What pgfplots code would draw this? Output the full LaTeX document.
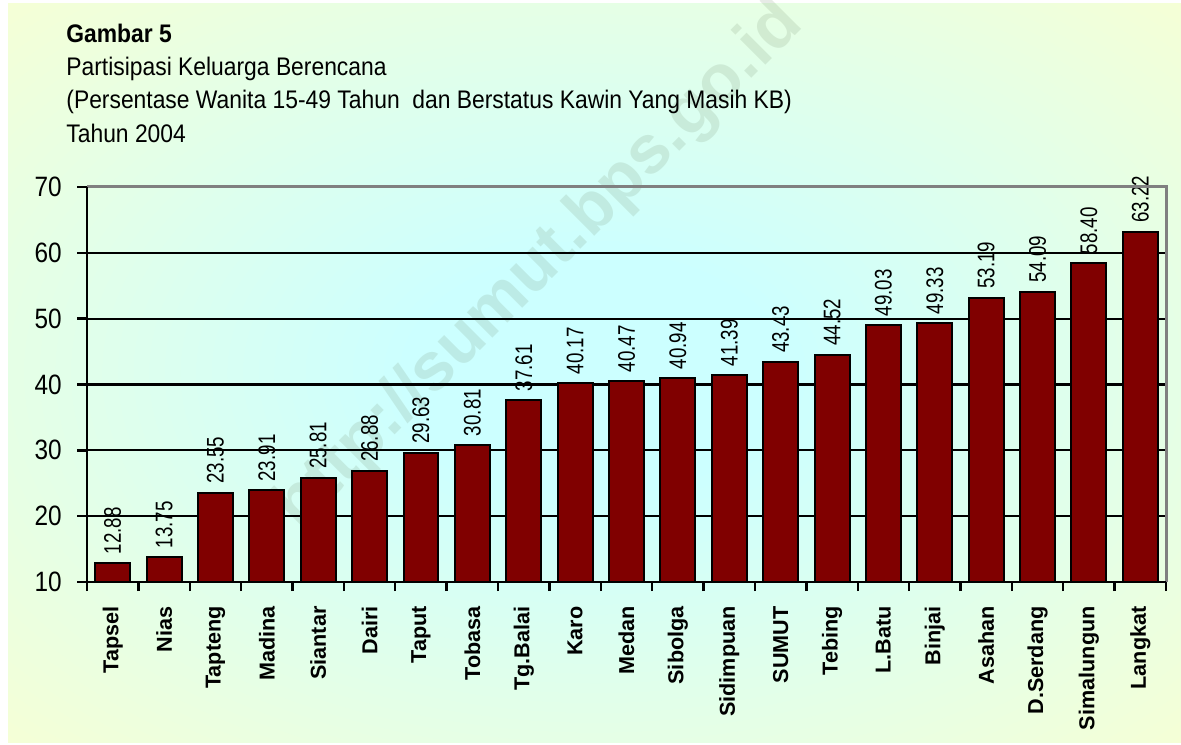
\documentclass[border=0pt]{standalone}
\usepackage{pgfplots}
\pgfplotsset{compat=1.18}
\usepackage{fontspec}
\setmainfont{Liberation Sans}
\newfontfamily\narrowT{Liberation Sans}[FakeStretch=0.9]
\newfontfamily\narrowV{Liberation Sans}[FakeStretch=0.78]
\newfontfamily\narrowY{Liberation Sans}[FakeStretch=0.87]
\definecolor{bgY}{HTML}{FFFFCC}
\definecolor{bgC}{HTML}{CCFFFF}
\definecolor{barR}{HTML}{800000}
\definecolor{wm}{RGB}{110,135,100}
\pgfdeclareradialshading{bgshade}{\pgfpointorigin}{color(0bp)=(bgC); color(8bp)=(bgC); color(42bp)=(bgY); color(50bp)=(bgY)}
\begin{document}
\begin{tikzpicture}[x=0.5pt,y=0.5pt]
\useasboundingbox (0,0) rectangle (1181,744);
\fill[white] (0,0) rectangle (1181,744);
\shade[shading=bgshade] (8,2) rectangle (1181,740);
\node[rotate=45, text=wm, opacity=0.16, font=\bfseries\fontsize{34}{40}\selectfont] at (540,478) {http://sumut.bps.go.id};
\node[anchor=base west, font=\narrowT\bfseries\fontsize{12.7}{14}\selectfont, inner sep=0pt] at (66,701) {Gambar 5};
\node[anchor=base west, font=\narrowT\fontsize{12.7}{14}\selectfont, inner sep=0pt] at (66,668) {Partisipasi Keluarga Berencana};
\node[anchor=base west, font=\narrowT\fontsize{12.7}{14}\selectfont, inner sep=0pt] at (66,635) {(Persentase Wanita 15-49 Tahun\ \ dan Berstatus Kawin Yang Masih KB)};
\node[anchor=base west, font=\narrowT\fontsize{12.7}{14}\selectfont, inner sep=0pt] at (66,601) {Tahun 2004};
\begin{axis}[
  name=ax,
  at={(43.5pt,81pt)}, anchor=south west,
  scale only axis, width=539.5pt, height=197.5pt,
  xmin=-0.5, xmax=20.5, ymin=10, ymax=70,
  ytick={10,20,...,70},
  xtick={0,...,20},
  xticklabels={Tapsel,Nias,Tapteng,Madina,Siantar,Dairi,Taput,Tobasa,Tg.Balai,Karo,Medan,Sibolga,Sidimpuan,SUMUT,Tebing,L.Batu,Binjai,Asahan,D.Serdang,Simalungun,Langkat},
  minor xtick={-0.5,0.5,...,20.5},
  major x tick style={draw=none},
  axis x line*=bottom, axis y line*=left,
  axis line style={line width=1.3pt, black, -},
  tick align=outside, major tick length=5pt, minor tick length=4.5pt,
  tick style={black, line width=1.2pt},
  ymajorgrids, grid style={black, line width=1.1pt},
  /pgf/number format/assume math mode=true,
  xticklabel style={rotate=90, anchor=east, font=\bfseries\fontsize{10.8}{12}\selectfont, inner sep=0pt},
  xticklabel shift=7pt,
  yticklabel style={font=\narrowY\fontsize{14}{16}\selectfont, inner sep=0pt},
  yticklabel shift=7.5pt,
  ybar, bar width=0.68,
  nodes near coords={\pgfmathprintnumber[fixed,fixed zerofill,precision=2,assume math mode=true]{\pgfplotspointmeta}},
  every node near coord/.append style={rotate=90, anchor=west, font=\narrowV\fontsize{12}{13}\selectfont, inner sep=2.5pt, outer sep=2pt, text=black},
]
\addplot[fill=barR, draw=black, line width=1pt] coordinates {
(0,12.88) (1,13.75) (2,23.55) (3,23.91) (4,25.81) (5,26.88) (6,29.63) (7,30.81) (8,37.61) (9,40.17) (10,40.47) (11,40.94) (12,41.39) (13,43.43) (14,44.52) (15,49.03) (16,49.33) (17,53.19) (18,54.09) (19,58.40) (20,63.22)
};
\end{axis}
\draw[gray, line width=1.5pt] (ax.north west) -- (ax.north east) -- (ax.south east);
\draw[black, line width=1.3pt] (ax.north west) -- (ax.south west) -- (ax.south east);
\end{tikzpicture}
\end{document}
